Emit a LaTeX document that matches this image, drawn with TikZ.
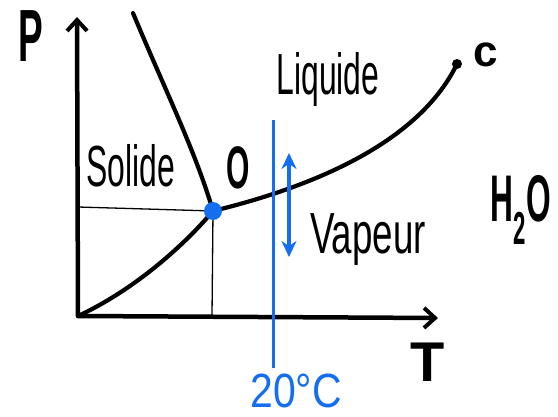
\documentclass[tikz,border=0pt]{standalone}
\usepackage{fontspec}
\setmainfont{Liberation Sans}
\usetikzlibrary{arrows.meta}
\definecolor{penblue}{RGB}{20,110,240}
\tikzset{
  axis/.style={line width=4.5pt,line cap=round,-{Straight Barb[length=11pt,width=20pt,line width=4pt]}},
  curve/.style={line width=4.2pt,line cap=round},
  thin/.style={line width=1.3pt},
  hand/.style={inner sep=0pt,font=\fontsize{58}{58}\selectfont,xscale=0.55},
  bold/.style={inner sep=0pt,font=\bfseries\fontsize{56}{56}\selectfont},
}
\begin{document}
\begin{tikzpicture}[x=1pt,y=-1pt]
\useasboundingbox (0,0) rectangle (558,417);
% points
\coordinate (orig) at (78,316);
\coordinate (ptop) at (77,17);
\coordinate (tend) at (438,318);
\coordinate (ftop) at (133,13);
\coordinate (trip) at (213,211);
\coordinate (crit) at (457,64);
\coordinate (hl) at (78,207);
\coordinate (vb) at (212,316);
\coordinate (btop) at (273,120);
\coordinate (bbot) at (273,368);
\coordinate (atop) at (289,153);
\coordinate (abot) at (289,257);
% axes
\draw[axis] (orig) -- (ptop);
\draw[axis] (orig) -- (tend);
% thin guide lines
\draw[thin] (hl) -- (trip);
\draw[thin] (trip) -- (vb);
% curves
\draw[curve] (ftop) .. controls (165,90) and (195,150) .. (trip);
\draw[curve] (orig) .. controls (130,292) and (180,250) .. (trip);
\draw[curve] (trip) .. controls (320,185) and (420,140) .. (crit);
% blue line and arrow
\draw[penblue,line width=3pt] (btop) -- (bbot);
\draw[penblue,line width=4.5pt,{Stealth[length=16pt,width=15pt]}-{Stealth[length=16pt,width=15pt]}] (atop) -- (abot);
% dots
\fill (crit) circle (5);
\fill[penblue] (trip) circle (9);
% labels
\node[bold,font=\bfseries\fontsize{74}{74}\selectfont,xscale=0.5] (P) at (31,36) {P};
\node[bold] (T) at (428,362) {T};
\node[bold,font=\bfseries\fontsize{60}{60}\selectfont,xscale=0.5] (O) at (238,168) {O};
\node[bold,font=\bfseries\fontsize{44}{44}\selectfont] (c) at (486,55) {c};
\node[bold,font=\bfseries\fontsize{66}{66}\selectfont,xscale=0.48] (h2o) at (521,210) {H\textsubscript{2}O};
\node[hand] (sol) at (131,166) {Solide};
\node[hand] (liq) at (328,80) {Liquide};
\node[hand,xscale=1.15] (vap) at (368,240) {Vapeur};
\node[hand,font=\fontsize{48}{48}\selectfont,xscale=1.55,text=penblue] (deg) at (296,391) {20°C};
\end{tikzpicture}
\end{document}
